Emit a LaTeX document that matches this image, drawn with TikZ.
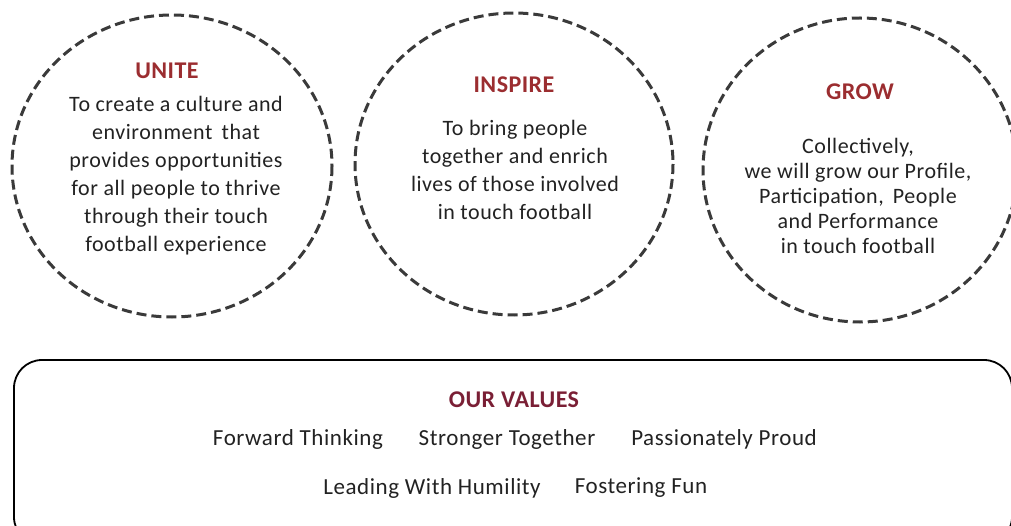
\documentclass[tikz,border=0pt]{standalone}
\usepackage{fontspec}
\setmainfont{Carlito}
\definecolor{headred}{HTML}{9B2D30}
\definecolor{valred}{HTML}{7A1F35}
\definecolor{bodygray}{HTML}{222222}
\definecolor{ringgray}{HTML}{3A3A3A}

\begin{document}
\begin{tikzpicture}[x=1pt, y=-1pt,
    ring/.style = {draw=ringgray, line width=3pt, dash pattern=on 10pt off 5pt},
    head/.style = {font=\fontsize{24}{28}\selectfont\bfseries\addfontfeature{LetterSpace=2}, text=headred},
    blurb/.style = {font=\fontsize{22}{28}\selectfont\addfontfeature{LetterSpace=2.5}, text=bodygray, align=center},
    value/.style = {font=\fontsize{23}{28}\selectfont\addfontfeature{LetterSpace=2.5}, text=bodygray}]
    \useasboundingbox (0,0) rectangle (1011,526);
    \clip (0,0) rectangle (1011,526);

    % the three aims
    \draw[ring] (172,166) ellipse [x radius=160, y radius=151];
    \draw[ring] (514,164) ellipse [x radius=159, y radius=151];
    \draw[ring] (860,170) ellipse [x radius=157, y radius=152];

    \node[head] (unite) at (167,71) {UNITE};
    \node[blurb] (uniteText) at (176,176) {To create a culture and\\environment\, that\\provides opportunities\\for all people to thrive\\through their touch\\football experience};

    \node[head] (inspire) at (514,85) {INSPIRE};
    \node[blurb] (inspireText) at (515,170) {To bring people\\together and enrich\\lives of those involved\\in touch football};

    \node[head] (grow) at (860,92) {GROW};
    \node[blurb, font=\fontsize{22}{25}\selectfont\addfontfeature{LetterSpace=2.5}] (growText) at (858,196) {Collectively,\\we will grow our Profile,\\Participation,\, People\\and Performance\\in touch football};

    % values box
    \draw[line width=1.8pt, rounded corners=28pt] (14,360) rectangle (1012,545);
    \node[head, text=valred] (values) at (514,400) {OUR VALUES};
    \node[value] (forward) at (298,439) {Forward Thinking};
    \node[value] (stronger) at (507,439) {Stronger Together};
    \node[value] (proud) at (724,439) {Passionately Proud};
    \node[value] (humility) at (432,488) {Leading With Humility};
    \node[value] (fun) at (641,488) {Fostering Fun};
\end{tikzpicture}
\end{document}
